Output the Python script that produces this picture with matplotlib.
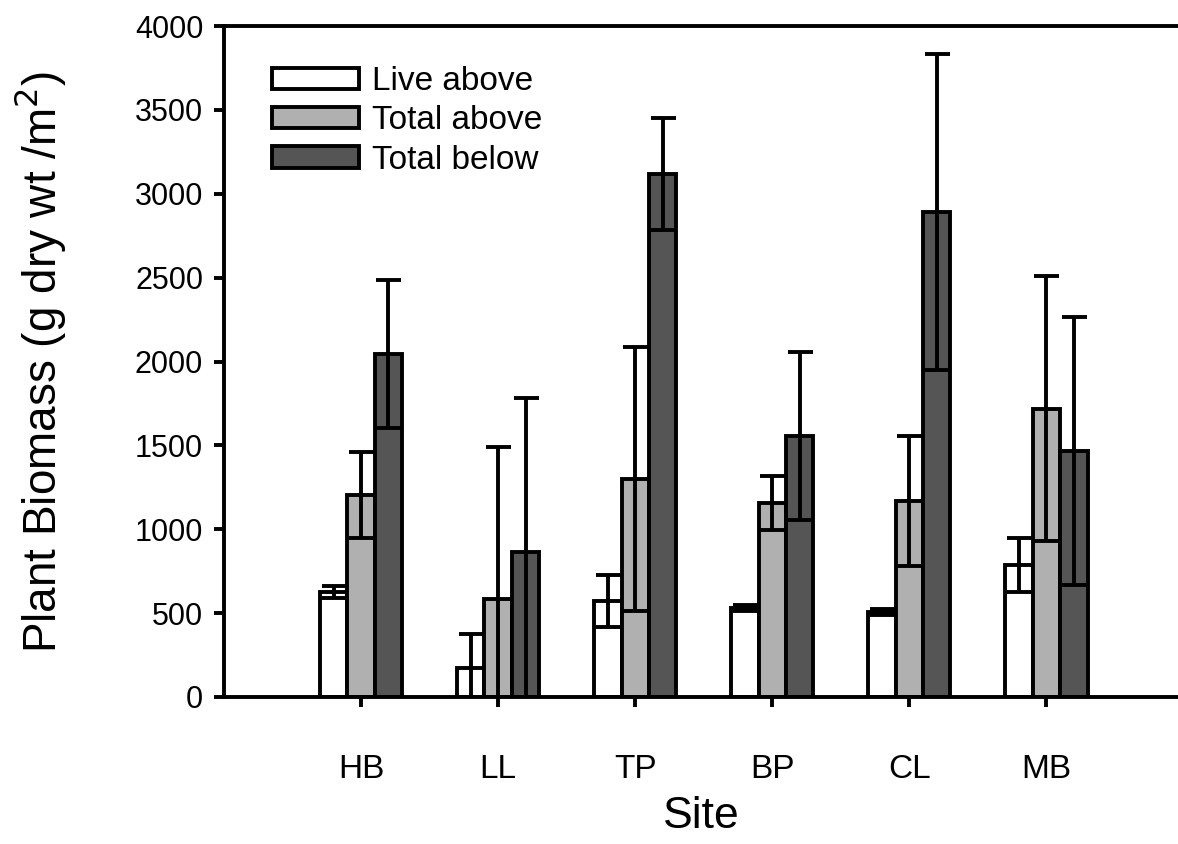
import matplotlib
matplotlib.use("Agg")
import matplotlib.pyplot as plt
import numpy as np

# Data
sites = ["HB", "LL", "TP", "BP", "CL", "MB"]
live_above = [626, 173, 572, 530, 507, 787]
live_above_err = [37, 203, 155, 18, 20, 160]
total_above = [1204, 584, 1300, 1156, 1168, 1717]
total_above_err = [258, 906, 786, 162, 390, 790]
total_below = [2045, 864, 3118, 1556, 2891, 1466]
total_below_err = [440, 918, 335, 500, 942, 798]

plt.rcParams['font.family'] = ['Liberation Sans', 'DejaVu Sans']

fig = plt.figure(figsize=(11.78, 8.44), dpi=100)
ax = fig.add_axes([224 / 1178, 1 - 697 / 844, 1 - 224 / 1178, (697 - 26) / 844])

x = np.arange(len(sites))
w = 0.2
lw = 2.8
err_kw = dict(elinewidth=lw, capthick=lw, capsize=9, ecolor='black')

ax.bar(x - w, live_above, w, yerr=live_above_err, color='white',
       edgecolor='black', linewidth=lw, label='Live above', error_kw=err_kw)
ax.bar(x, total_above, w, yerr=total_above_err, color='#b0b0b0',
       edgecolor='black', linewidth=lw, label='Total above', error_kw=err_kw)
ax.bar(x + w, total_below, w, yerr=total_below_err, color='#555555',
       edgecolor='black', linewidth=lw, label='Total below', error_kw=err_kw)

ax.set_xlim(-1, 5.96)
ax.set_ylim(0, 4000)
ax.set_yticks(np.arange(0, 4001, 500))
ax.set_xticks(x)
ax.set_xticklabels(sites, fontsize=24)
for t in ax.get_yticklabels():
    t.set_fontsize(22)

ax.spines['right'].set_visible(False)
for s in ['left', 'bottom', 'top']:
    ax.spines[s].set_linewidth(lw)
ax.tick_params(direction='out', length=7, width=lw, pad=8)
ax.tick_params(axis='x', pad=34)

ax.set_xlabel("Site", fontsize=32, labelpad=8)
ax.set_ylabel("Plant Biomass (g dry wt /m$^2$)", fontsize=33, labelpad=48)

leg = ax.legend(loc='upper left', bbox_to_anchor=(0.019, 0.985), frameon=False,
                fontsize=24, handlelength=2.6, handleheight=0.6,
                labelspacing=0.25, handletextpad=0.4)
for p in leg.get_patches():
    p.set_linewidth(lw)

fig.savefig("out.png", dpi=100)
